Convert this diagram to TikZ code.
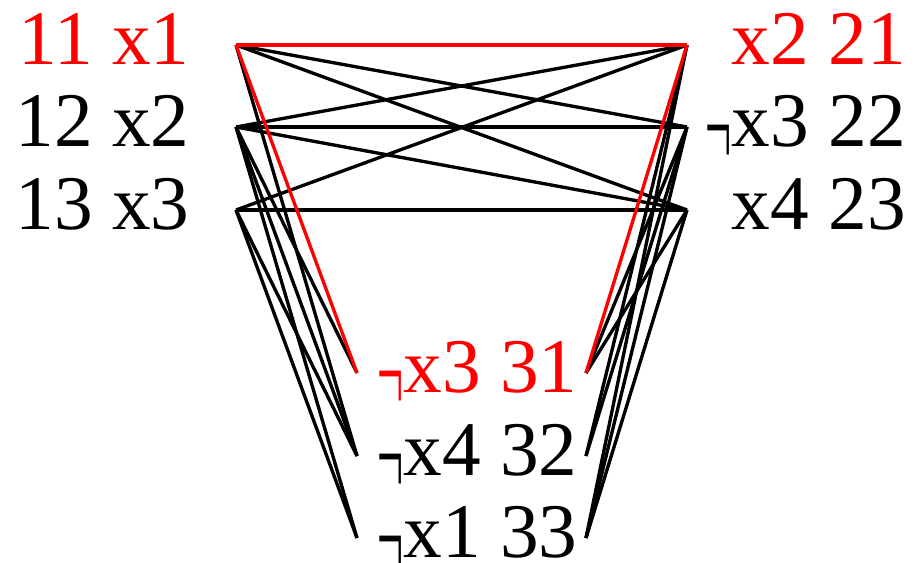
\documentclass[tikz,border=0pt]{standalone}
\usepackage{fontspec}
\setmainfont{Liberation Serif}
\usepackage{xcolor}
\usepackage{graphicx}
\definecolor{pickred}{RGB}{255,0,0}
\newcommand{\litfont}{\fontsize{44}{50}\selectfont}
\newcommand{\negl}{\raisebox{-11pt}[0pt][0pt]{\scalebox{0.6}[1.5]{¬}}}

\begin{document}
\begin{tikzpicture}[
    x=0.02cm,y=-0.02cm,
    lit/.style={inner sep=0pt,font=\litfont},
    edge/.style={line width=1.9pt,black},
    pick/.style={line width=1.9pt,pickred}
  ]
    \useasboundingbox (0,0) rectangle (916,563);
    % clause 1
    \node[lit,anchor=base east,text=pickred] (c11) at (190,65) {11 x1};
    \node[lit,anchor=base east] (c12) at (190,147) {12 x2};
    \node[lit,anchor=base east] (c13) at (190,230) {13 x3};
    \coordinate (p11) at (236,45);
    \coordinate (p12) at (236,127);
    \coordinate (p13) at (236,210);
    % clause 2
    \node[lit,anchor=base east,text=pickred] (c21) at (906,65) {x2 21};
    \node[lit,anchor=base east] (c22) at (906,147) {\negl x3 22};
    \node[lit,anchor=base east] (c23) at (906,230) {x4 23};
    \coordinate (p21) at (687,45);
    \coordinate (p22) at (687,127);
    \coordinate (p23) at (687,210);
    % clause 3
    \node[lit,anchor=base west,text=pickred] (c31) at (377,393) {\negl x3 31};
    \node[lit,anchor=base west] (c32) at (377,476) {\negl x4 32};
    \node[lit,anchor=base west] (c33) at (377,558) {\negl x1 33};
    \coordinate (p31w) at (357,373);
    \coordinate (p32w) at (357,456);
    \coordinate (p33w) at (357,538);
    \coordinate (p31e) at (586,373);
    \coordinate (p32e) at (586,456);
    \coordinate (p33e) at (586,538);
    % consistent pairs
    \draw[edge] (p11) -- (p22);
    \draw[edge] (p11) -- (p23);
    \draw[edge] (p12) -- (p21);
    \draw[edge] (p12) -- (p22);
    \draw[edge] (p12) -- (p23);
    \draw[edge] (p13) -- (p21);
    \draw[edge] (p13) -- (p23);
    \draw[edge] (p11) -- (p32w);
    \draw[edge] (p12) -- (p31w);
    \draw[edge] (p12) -- (p32w);
    \draw[edge] (p12) -- (p33w);
    \draw[edge] (p13) -- (p32w);
    \draw[edge] (p13) -- (p33w);
    \draw[edge] (p21) -- (p32e);
    \draw[edge] (p21) -- (p33e);
    \draw[edge] (p22) -- (p31e);
    \draw[edge] (p22) -- (p32e);
    \draw[edge] (p22) -- (p33e);
    \draw[edge] (p23) -- (p31e);
    \draw[edge] (p23) -- (p33e);
    % the clique
    \draw[pick] (p11) -- (p21);
    \draw[pick] (p11) -- (p31w);
    \draw[pick] (p21) -- (p31e);
  \end{tikzpicture}
\end{document}
